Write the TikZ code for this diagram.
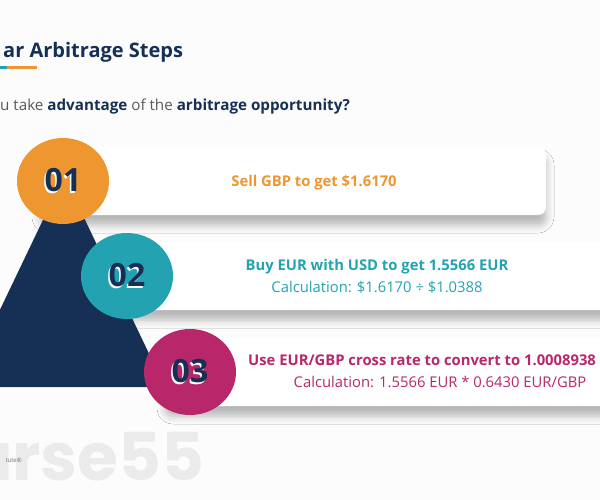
\documentclass[tikz,border=0pt]{standalone}
\usepackage{fontspec}
\setmainfont{Open Sans}
\newfontfamily\wmfont{Poppins}
\usetikzlibrary{shapes.geometric,shadows.blur,positioning}
\definecolor{navy}{HTML}{152F55}
\definecolor{stepone}{HTML}{EE9630}
\definecolor{steptwo}{HTML}{23A3B1}
\definecolor{stepthree}{HTML}{B8276A}
\definecolor{subgrey}{HTML}{5A5A5A}
\definecolor{wmgrey}{HTML}{EBEBEB}
\definecolor{pagebg}{HTML}{FCFCFC}
\newcommand{\stepnum}[1]{\rlap{\kern-1.5pt\raisebox{-1.5pt}{\color{white}#1}}#1}
\tikzset{
	card/.style={fill=white, rounded corners=8pt, minimum height=68pt, inner sep=0pt,
		blur shadow={shadow xshift=0pt, shadow yshift=-10pt, shadow blur radius=8pt, shadow opacity=28}},
	stepcircle/.style={ellipse, minimum width=92pt, minimum height=86pt, inner sep=0pt,
		text=navy, font=\bfseries\fontsize{32}{32}\selectfont},
	headline/.style={font=\bfseries\fontsize{14.8}{17}\selectfont},
	calcline/.style={font=\fontsize{14.8}{17}\selectfont}
}
\begin{document}
\begin{tikzpicture}[x=1pt,y=-1pt]
	\useasboundingbox (0,0) rectangle (600,500);
	\clip (0,0) rectangle (600,500);
	\fill[pagebg] (0,0) rectangle (600,500);
	% heading
	\node[anchor=base west, inner sep=0pt, text=navy, font=\bfseries\fontsize{20}{22}\selectfont]
		(title) at (3,58) {ar Arbitrage Steps};
	\fill[steptwo] (0,66.5) rectangle (7,69.5);
	\fill[stepone] (7,66.5) rectangle (37,69.5);
	\node[anchor=base west, inner sep=0pt, text=subgrey, font=\fontsize{15.2}{18}\selectfont]
		(question) at (0,110.5) {u take \textcolor{navy}{\bfseries advantage} of the \textcolor{navy}{\bfseries arbitrage opportunity?}};
	% watermark
	\node[anchor=base west, inner sep=0pt, text=wmgrey, font=\wmfont\bfseries\fontsize{66}{66}\selectfont]
		(wm) at (-32,480) {urse55};
	\node[anchor=base east, inner sep=0pt, text=black!55, font=\fontsize{6}{6}\selectfont]
		(wmsmall) at (22,462) {tute®};
	% cards
	\node[card, minimum width=506pt] (card1) at (293,181) {};
	\node[card, minimum width=540pt] (card2) at (370,276) {};
	\node[card, minimum width=540pt] (card3) at (435,372) {};
	% pyramid
	\fill[navy] (64,176) -- (-37,387) -- (165,387) -- cycle;
	% numbers
	\node[stepcircle, fill=stepone] (s1) at (63,181) {\stepnum{01}};
	\node[stepcircle, fill=steptwo] (s2) at (127,276) {\stepnum{02}};
	\node[stepcircle, fill=stepthree] (s3) at (190,372) {\stepnum{03}};
	% texts
	\node[headline, text=stepone] (t1) at (314,183) {Sell GBP to get \$1.6170};
	\node[headline, text=steptwo] (t2a) at (377,267) {Buy EUR with USD to get 1.5566 EUR};
	\node[calcline, text=steptwo] (t2b) at (377,287) {Calculation: \$1.6170 ÷ \$1.0388};
	\node[headline, text=stepthree, anchor=west, inner sep=0pt] (t3a) at (248,360) {Use EUR/GBP cross rate to convert to 1.0008938};
	\node[calcline, text=stepthree] (t3b) at (440,382) {Calculation: 1.5566 EUR * 0.6430 EUR/GBP};
\end{tikzpicture}
\end{document}
